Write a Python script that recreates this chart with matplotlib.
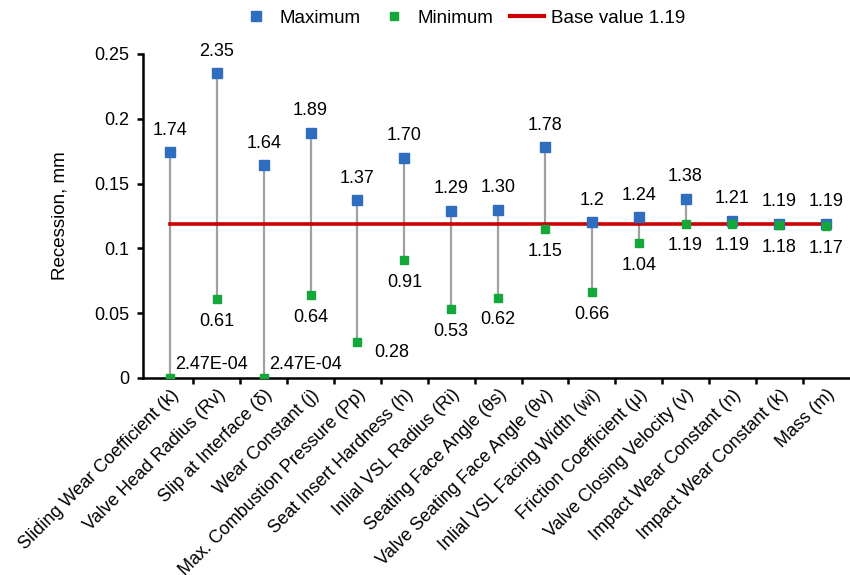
import matplotlib
matplotlib.use("Agg")
import matplotlib.pyplot as plt
from matplotlib.ticker import FuncFormatter, FixedLocator
from matplotlib.lines import Line2D

plt.rcParams['font.family'] = ['Liberation Sans', 'DejaVu Sans']

categories = [
    "Sliding Wear Coefficient (k)", "Valve Head Radius (Rv)", "Slip at Interface (δ)",
    "Wear Constant (j)", "Max. Combustion Pressure (Pp)", "Seat Insert Hardness (h)",
    "Inlial VSL Radius (Ri)", "Seating Face Angle (θs)", "Valve Seating Face Angle (θv)",
    "Inlial VSL Facing Width (wi)", "Friction Coefficient (μ)", "Valve Closing Velocity (v)",
    "Impact Wear Constant (n)", "Impact Wear Constant (k)", "Mass (m)",
]
max_vals = [0.174, 0.235, 0.164, 0.189, 0.137, 0.170, 0.129, 0.130, 0.178, 0.120,
            0.124, 0.138, 0.121, 0.119, 0.119]
min_vals = [0.0000247, 0.061, 0.0000247, 0.064, 0.028, 0.091, 0.053, 0.062, 0.115, 0.066,
            0.104, 0.119, 0.119, 0.118, 0.117]
max_labels = ["1.74", "2.35", "1.64", "1.89", "1.37", "1.70", "1.29", "1.30", "1.78", "1.2",
              "1.24", "1.38", "1.21", "1.19", "1.19"]
min_labels = ["2.47E-04", "0.61", "2.47E-04", "0.64", "0.28", "0.91", "0.53", "0.62", "1.15",
              "0.66", "1.04", "1.19", "1.19", "1.18", "1.17"]
base_value = 0.119
base_label = "Base value 1.19"
y_ticks = [0, 0.05, 0.1, 0.15, 0.2, 0.25]

BLUE = "#2f6ebf"
GREEN = "#14a83a"
RED = "#cc0000"
GRAY = "#a0a0a0"
FS = 13

fig = plt.figure(figsize=(8.5, 5.75), dpi=100)
ax = fig.add_axes([143/850, 1-378/575, 1-143/850-0.001, (378-54)/575])

x = list(range(len(categories)))

# connectors
ax.vlines(x, min_vals, max_vals, color=GRAY, lw=1.6, zorder=1)
# base line
ax.plot([x[0], x[-1]], [base_value, base_value], color=RED, lw=2.6, zorder=2)
# markers
ax.plot(x, max_vals, linestyle='none', marker='s', ms=7, color=BLUE, zorder=4)
ax.plot(x, min_vals, linestyle='none', marker='s', ms=6, color=GREEN, zorder=4)

for i in x:
    ax.annotate(max_labels[i], (i, max_vals[i]), xytext=(0, 16), textcoords='offset points',
                ha='center', va='center', fontsize=FS)
    lab = min_labels[i]
    if lab.startswith("2.47"):
        ax.annotate(lab, (i, min_vals[i]), xytext=(4, 10), textcoords='offset points',
                    ha='left', va='center', fontsize=FS)
    elif lab == "0.28":
        ax.annotate(lab, (i, min_vals[i]), xytext=(25, -8), textcoords='offset points',
                    ha='center', va='center', fontsize=FS)
    else:
        ax.annotate(lab, (i, min_vals[i]), xytext=(0, -16), textcoords='offset points',
                    ha='center', va='center', fontsize=FS)

ax.set_xlim(-0.575, 14.49)
ax.set_ylim(0, 0.25)
ax.set_yticks(y_ticks)
ax.yaxis.set_major_formatter(FuncFormatter(lambda v, p: "%g" % v))
ax.tick_params(axis='y', direction='out', length=4, width=1.8, labelsize=FS, pad=6)

ax.set_xticks(x)
ax.set_xticklabels(categories, rotation=45, ha='right', rotation_mode='anchor', fontsize=FS)
ax.tick_params(axis='x', which='major', length=0, pad=6)
ax.xaxis.set_minor_locator(FixedLocator([k + 0.5 for k in x]))
ax.tick_params(axis='x', which='minor', direction='out', length=4, width=1.8)

for s in ['top', 'right']:
    ax.spines[s].set_visible(False)
for s in ['left', 'bottom']:
    ax.spines[s].set_linewidth(1.8)

ax.set_ylabel("Recession, mm", fontsize=FS + 0.5)
ax.yaxis.set_label_coords(-0.106, 0.5)

handles = [
    Line2D([], [], linestyle='none', marker='s', ms=7, color=BLUE),
    Line2D([], [], linestyle='none', marker='s', ms=6, color=GREEN),
    Line2D([], [], color=RED, lw=3),
]
fig.legend(handles, ["Maximum", "Minimum", base_label], loc='center',
           bbox_to_anchor=(462/850, 1-18/575), ncol=3, frameon=False, fontsize=FS + 0.5,
           handlelength=1.8, handletextpad=0.35, columnspacing=0.9)

fig.savefig("out.png", dpi=100)
